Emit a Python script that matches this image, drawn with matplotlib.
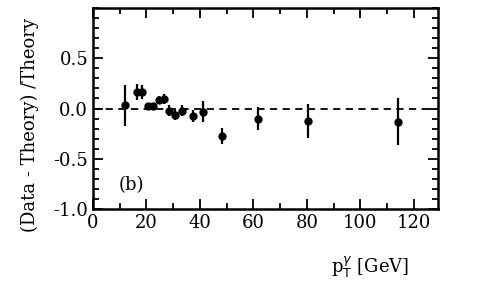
import matplotlib
matplotlib.use("Agg")
import matplotlib.pyplot as plt
from matplotlib.ticker import MultipleLocator

plt.rcParams['font.family'] = ['DejaVu Serif']
plt.rcParams['axes.unicode_minus'] = False

# data
pt = [12.1, 16.4, 18.4, 20.5, 22.4, 24.5, 26.5, 28.6, 30.5, 33.4, 37.4, 41.3, 48.3, 61.8, 80.3, 114.2]
ratio = [0.03, 0.16, 0.16, 0.02, 0.02, 0.08, 0.09, -0.02, -0.06, -0.02, -0.07, -0.03, -0.27, -0.10, -0.12, -0.13]
err_up = [0.20, 0.08, 0.07, 0.03, 0.03, 0.04, 0.05, 0.05, 0.05, 0.05, 0.06, 0.10, 0.08, 0.11, 0.16, 0.23]
err_dn = [0.20, 0.08, 0.07, 0.03, 0.03, 0.04, 0.05, 0.05, 0.05, 0.05, 0.06, 0.10, 0.08, 0.11, 0.17, 0.23]
yticks = [-1.0, -0.5, 0.0, 0.5]
xticks = [0, 20, 40, 60, 80, 100, 120]

fig = plt.figure(figsize=(4.78, 2.96), dpi=100)
ax = fig.add_axes([93/478, 1 - 209/296, 345/478, 201/296])

ax.axhline(0, color='black', lw=1.3, ls=(0, (4, 3)))
ax.errorbar(pt, ratio, yerr=[err_dn, err_up], fmt='o', color='black',
            ms=5, elinewidth=1.6, capsize=0)

ax.set_xlim(0, 129)
ax.set_ylim(-1.0, 1.0)
ax.set_xticks(xticks)
ax.set_yticks(yticks)
ax.set_yticklabels(['-1.0', '-0.5', '0.0', '0.5'])
ax.xaxis.set_minor_locator(MultipleLocator(10))
ax.yaxis.set_minor_locator(MultipleLocator(0.1))
ax.tick_params(which='both', direction='in', top=True, right=True, width=1.3, labelsize=13)
ax.tick_params(which='major', length=7)
ax.tick_params(which='minor', length=4)
for s in ax.spines.values():
    s.set_linewidth(1.8)

ax.text(0.075, 0.12, '(b)', transform=ax.transAxes, fontsize=13, va='center')

fig.text(0.063, 0.578, '(Data - Theory) /Theory', rotation=90, fontsize=13,
         ha='center', va='center')
fig.text(0.775, 0.095, r'p$_\mathrm{T}^{\gamma}$ [GeV]', fontsize=13,
         ha='center', va='center')

fig.savefig('out.png', dpi=100)
